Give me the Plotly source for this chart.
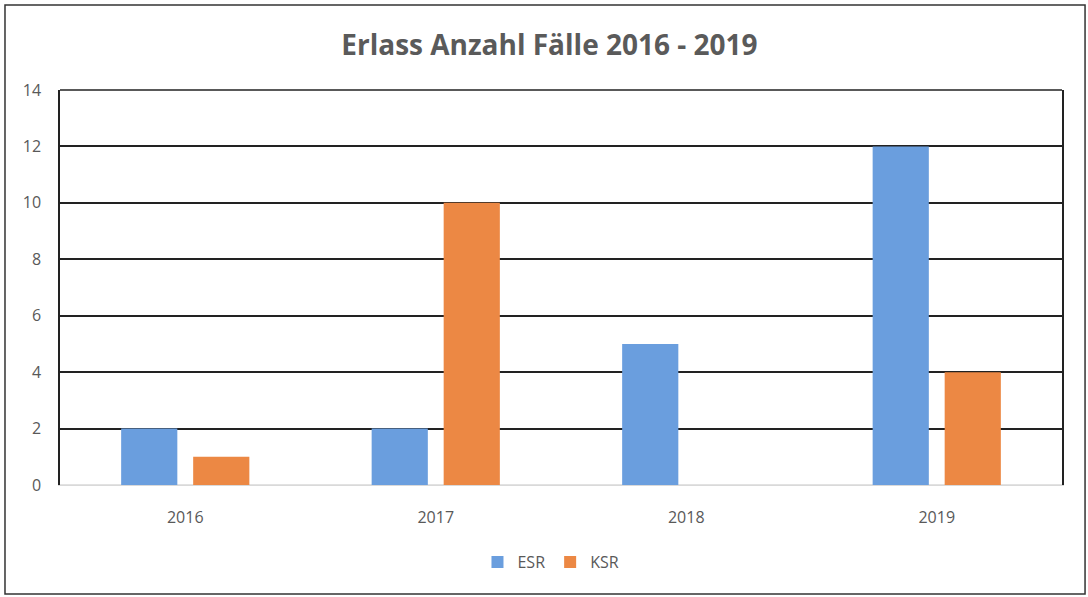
import plotly.graph_objects as go

years = ["2016", "2017", "2018", "2019"]
esr = [2, 2, 5, 12]
ksr = [1, 10, 0, 4]
y_ticks = [0, 2, 4, 6, 8, 10, 12, 14]

fig = go.Figure()
fig.add_trace(go.Bar(name="ESR", x=years, y=esr, marker_color="#6A9EDE", marker_line_width=0))
fig.add_trace(go.Bar(name="KSR", x=years, y=ksr, marker_color="#EC8844", marker_line_width=0))

fig.update_layout(
    width=1088, height=597,
    margin=dict(l=60, r=26, t=90, b=112),
    paper_bgcolor="white", plot_bgcolor="white",
    barmode="group", bargap=0.425, bargroupgap=0.22,
    title=dict(text="<b>Erlass Anzahl Fälle 2016 - 2019</b>", x=0.505, xanchor="center",
               y=1 - 45 / 597, yanchor="middle",
               font=dict(family="Open Sans", size=28, color="#5A5A5A")),
    font=dict(family="Open Sans", color="#595959", size=16),
    legend=dict(orientation="h", x=0.49, xanchor="center", y=-0.195, yanchor="middle",
                font=dict(size=16, color="#595959"), traceorder="normal"),
    xaxis=dict(showline=True, linecolor="#D9D9D9", linewidth=1, ticks="",
               tickfont=dict(size=16, color="#595959"), ticklabelstandoff=18),
    yaxis=dict(range=[0, 14], tickvals=y_ticks, showgrid=True, gridcolor="#222222", gridwidth=1.5,
               showline=True, linecolor="#222222", linewidth=1.5, mirror=True,
               zeroline=False, ticks="", tickfont=dict(size=16, color="#595959"), ticklabelstandoff=14),
    shapes=[
        dict(type="rect", xref="paper", yref="paper", x0=-0.0549, x1=1.023, y0=-0.276, y1=1.215,
             line=dict(color="#333333", width=1.5), fillcolor="rgba(0,0,0,0)", layer="below"),
        dict(type="line", xref="paper", yref="paper", x0=0, x1=1, y0=1, y1=1,
             line=dict(color="#222222", width=1.5)),
        dict(type="line", xref="paper", yref="paper", x0=0, x1=1, y0=0, y1=0,
             line=dict(color="#D9D9D9", width=1.5), layer="below"),
    ],
)

fig.write_html("out.html", config={"displayModeBar": False},
               post_script="document.body.style.margin='0';")
